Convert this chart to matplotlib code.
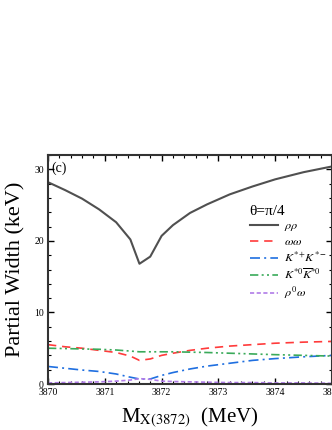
import matplotlib
matplotlib.use("Agg")
import matplotlib.pyplot as plt
from matplotlib.ticker import MultipleLocator

plt.rcParams['font.family'] = ['Liberation Serif', 'DejaVu Serif']
plt.rcParams['mathtext.fontset'] = 'stix'

x = [3870, 3870.3, 3870.6, 3870.9, 3871.2, 3871.45, 3871.61, 3871.8, 3872.0,
     3872.2, 3872.5, 3872.8, 3873.2, 3873.6, 3874.0, 3874.5, 3875]
rho_rho = [28.2, 27.1, 25.9, 24.4, 22.6, 20.2, 16.8, 17.8, 20.7,
           22.2, 23.9, 25.1, 26.5, 27.6, 28.6, 29.6, 30.4]
omega_omega = [5.5, 5.2, 5.0, 4.7, 4.4, 3.9, 3.3, 3.5, 4.0,
               4.3, 4.7, 5.0, 5.3, 5.5, 5.7, 5.85, 5.95]
kstar_pm = [2.45, 2.2, 1.95, 1.75, 1.4, 0.95, 0.7, 0.7, 1.2,
            1.6, 2.1, 2.5, 2.9, 3.3, 3.55, 3.8, 4.0]
kstar_00 = [5.0, 4.95, 4.9, 4.85, 4.75, 4.6, 4.5, 4.5, 4.5,
            4.5, 4.45, 4.4, 4.3, 4.2, 4.1, 4.0, 3.9]
rho0_omega = [0.15, 0.2, 0.25, 0.3, 0.4, 0.55, 0.75, 0.65, 0.4,
              0.35, 0.3, 0.25, 0.2, 0.2, 0.15, 0.15, 0.1]

labels = [r'$\rho\rho$', r'$\omega\omega$', r'$K^{*+}\!K^{*-}$',
          r'$K^{*0}\overline{K}^{*0}$', r'$\rho^0\omega$']
legend_title = 'θ=π/4'
xticks = [3870, 3871, 3872, 3873, 3874, 3875]
yticks = [0, 10, 20, 30]

fig = plt.figure(figsize=(3.32, 4.30), dpi=100)
ax = fig.add_axes([48/332, 1-384/430, 284/332, 229/430])

ax.plot(x, rho_rho, color='#505050', lw=1.5, label=labels[0])
ax.plot(x, omega_omega, color='#ff3b3b', lw=1.2, dashes=(5, 3.5), label=labels[1])
ax.plot(x, kstar_pm, color='#1f6fe0', lw=1.2, dashes=(6, 2.5, 1.2, 2.5), label=labels[2])
ax.plot(x, kstar_00, color='#3aaa5a', lw=1.2, dashes=(5, 2, 1.2, 2, 1.2, 2), label=labels[3])
ax.plot(x, rho0_omega, color='#b07ce8', lw=1.2, dashes=(2.5, 1.5), label=labels[4])

ax.set_xlim(3870, 3875)
ax.set_ylim(0, 32)
ax.set_xticks(xticks)
ax.set_yticks(yticks)
ax.xaxis.set_minor_locator(MultipleLocator(0.2))
ax.yaxis.set_minor_locator(MultipleLocator(2))
ax.tick_params(which='both', direction='in', top=True, right=True, labelsize=7, pad=3)
ax.tick_params(which='major', length=4, width=1.0)
ax.tick_params(which='minor', length=2, width=0.8)
for s in ax.spines.values():
    s.set_linewidth(1.5)
    s.set_color('#333333')

ax.set_ylabel('Partial Width (keV)', fontsize=16, labelpad=6)
ax.set_xlabel(r'M$_{\rm X(3872)}$  (MeV)', fontsize=15, labelpad=6)

ax.text(0.012, 0.94, '(c)', transform=ax.transAxes, fontsize=10, va='center', ha='left')

leg = ax.legend(loc='upper left', bbox_to_anchor=(0.68, 0.82), frameon=False,
                fontsize=8.8, title=legend_title, title_fontsize=11,
                handlelength=2.3, handletextpad=0.5, labelspacing=0.22,
                borderpad=0.2)
leg._legend_box.align = 'left'

fig.savefig('out.png', dpi=100)
